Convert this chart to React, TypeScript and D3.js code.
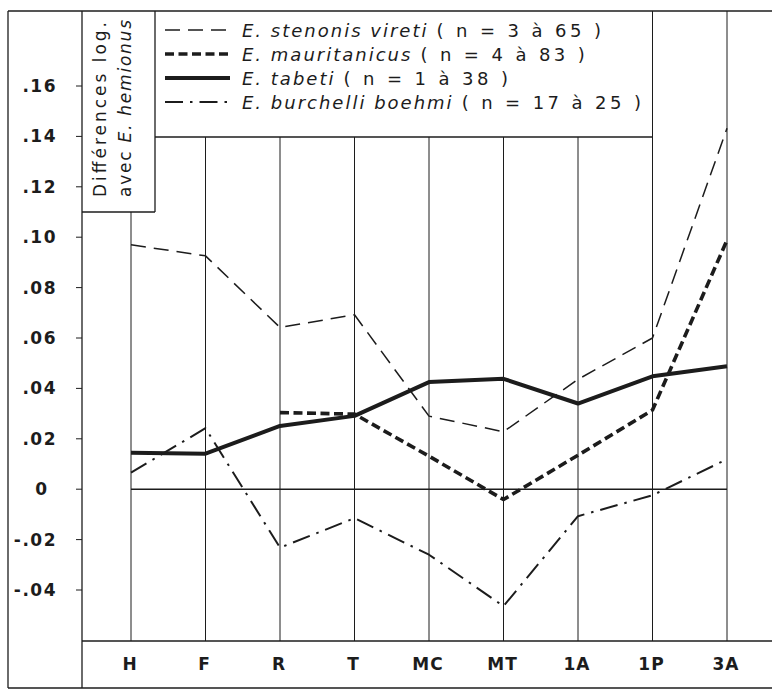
import React from "react";
import * as d3 from "d3";

const categories = ["H", "F", "R", "T", "MC", "MT", "1A", "1P", "3A"];
const stenonisVireti = [0.097, 0.0926, 0.0642, 0.0692, 0.029, 0.0228, 0.0436, 0.06, 0.1432];
const mauritanicus: (number | null)[] = [null, null, 0.0304, 0.0298, 0.0131, -0.0041, 0.0135, 0.0314, 0.0988];
const tabeti = [0.0145, 0.0141, 0.0251, 0.0291, 0.0425, 0.0438, 0.034, 0.0448, 0.0488];
const burchelliBoehmi = [0.0066, 0.0242, -0.0232, -0.0115, -0.026, -0.0464, -0.0107, -0.0024, 0.0119];

const yTicks = [0.16, 0.14, 0.12, 0.1, 0.08, 0.06, 0.04, 0.02, 0, -0.02, -0.04];
const yTickLabels = [".16", ".14", ".12", ".10", ".08", ".06", ".04", ".02", "0", "-.02", "-.04"];

const legendSpecies = ["E. stenonis vireti", "E. mauritanicus", "E. tabeti", "E. burchelli boehmi"];
const legendCounts = ["( n = 3 à 65 )", "( n = 4 à 83 )", "( n = 1 à 38 )", "( n = 17 à 25 )"];

const INK = "#1c1c1c";
const FONT = "'DejaVu Sans', Verdana, sans-serif";

const styles = [
  { width: 1.5, dash: "15 8" },
  { width: 3.6, dash: "9 4.5" },
  { width: 4, dash: "" },
  { width: 2, dash: "18 7 2.5 7" },
];

export default function App() {
  const W = 772;
  const H = 690;
  const frameL = 8, frameT = 11, frameB = 688, frameR = 800;
  const axisX = 82;
  const plotBottom = 641;
  const titleBox = { x0: 82, x1: 155, y1: 212 };
  const legendBox = { x0: 155, x1: 652, y1: 137 };

  const x = d3.scalePoint<string>().domain(categories).range([131, 727]);
  const y = d3.scaleLinear().domain([-0.04, 0.16]).range([590, 86]);

  const series = [stenonisVireti, mauritanicus, tabeti, burchelliBoehmi];
  const line = d3
    .line<number | null>()
    .defined((d) => d !== null)
    .x((_, i) => x(categories[i]) as number)
    .y((d) => y(d as number));

  const gridTop = (cx: number) => {
    if (cx < titleBox.x1) return titleBox.y1;
    if (cx < legendBox.x1 - 1) return legendBox.y1;
    return frameT;
  };

  return (
    <svg width={W} height={H} viewBox={`0 0 ${W} ${H}`} style={{ display: "block", position: "absolute", left: 0, top: 0, background: "#fff" }}>
      <rect x={0} y={0} width={W} height={H} fill="#fff" />
      {/* frame */}
      <g stroke={INK} strokeWidth={1.3} fill="none">
        <line x1={frameL} y1={frameT} x2={frameR} y2={frameT} />
        <line x1={frameL} y1={frameT} x2={frameL} y2={frameB} />
        <line x1={frameL} y1={frameB} x2={frameR} y2={frameB} />
        <line x1={axisX} y1={frameT} x2={axisX} y2={frameB} />
        <line x1={axisX} y1={plotBottom} x2={frameR} y2={plotBottom} />
        <line x1={titleBox.x0} y1={titleBox.y1} x2={titleBox.x1} y2={titleBox.y1} />
        <line x1={titleBox.x1} y1={frameT} x2={titleBox.x1} y2={titleBox.y1} />
        <line x1={legendBox.x0} y1={legendBox.y1} x2={legendBox.x1} y2={legendBox.y1} />
      </g>
      {/* vertical grid */}
      <g stroke={INK} strokeWidth={1}>
        {categories.map((c) => {
          const cx = x(c) as number;
          return <line key={c} x1={cx} x2={cx} y1={gridTop(cx)} y2={plotBottom} />;
        })}
      </g>
      {/* zero line */}
      <line x1={x("H")} x2={x("3A")} y1={y(0)} y2={y(0)} stroke={INK} strokeWidth={1.6} />
      {/* y ticks */}
      <g fill={INK} fontFamily={FONT} fontWeight="bold" fontSize={17}>
        {yTicks.map((t, i) => (
          <g key={t}>
            <line x1={axisX - 6} x2={axisX} y1={y(t)} y2={y(t)} stroke={INK} strokeWidth={1} />
            <text
              x={t === 0 ? 42 : 57}
              y={y(t) + 6}
              textAnchor={t === 0 ? "middle" : "end"}
              letterSpacing={1.5}
            >
              {yTickLabels[i]}
            </text>
          </g>
        ))}
      </g>
      {/* x labels */}
      <g fill={INK} fontFamily={FONT} fontWeight="bold" fontSize={17} textAnchor="middle">
        {categories.map((c) => (
          <text key={c} x={(x(c) as number) - 1} y={670} letterSpacing={1}>
            {c}
          </text>
        ))}
      </g>
      {/* axis title */}
      <g fill={INK} fontFamily={FONT} fontSize={17}>
        <text transform="translate(106,197) rotate(-90)" textLength={175} lengthAdjust="spacing">
          Différences log.
        </text>
        <text transform="translate(131,197) rotate(-90)" textLength={177} lengthAdjust="spacing">
          avec <tspan fontStyle="italic">E. hemionus</tspan>
        </text>
      </g>
      {/* series */}
      <g fill="none" stroke={INK} strokeLinejoin="round">
        {series.map((s, i) => (
          <path
            key={i}
            d={line(s) || ""}
            strokeWidth={styles[i].width}
            strokeDasharray={styles[i].dash || undefined}
          />
        ))}
      </g>
      {/* legend */}
      <g fontFamily={FONT} fontSize={18} fill={INK}>
        {legendSpecies.map((name, i) => {
          const cy = 30 + i * 24;
          return (
            <g key={name}>
              <line
                x1={165}
                x2={230}
                y1={cy}
                y2={cy}
                stroke={INK}
                strokeWidth={styles[i].width}
                strokeDasharray={styles[i].dash || undefined}
              />
              <text x={242} y={cy + 6.5}>
                <tspan fontStyle="italic" letterSpacing={2}>{name}</tspan>
                <tspan dx={8} letterSpacing={3.4}>{legendCounts[i]}</tspan>
              </text>
            </g>
          );
        })}
      </g>
    </svg>
  );
}
